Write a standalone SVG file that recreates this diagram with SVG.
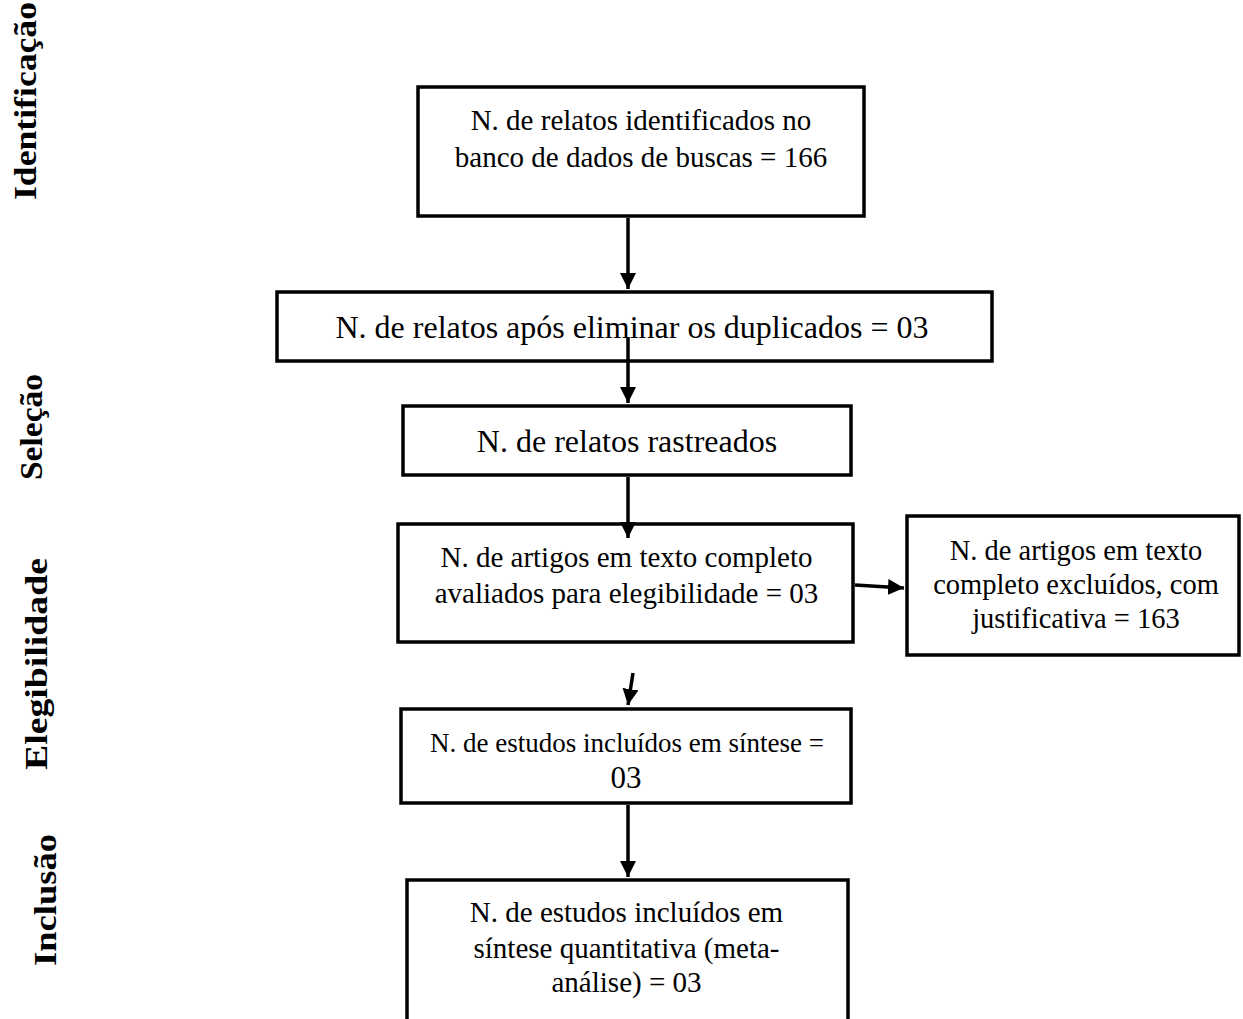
<svg xmlns="http://www.w3.org/2000/svg" width="1243" height="1019" viewBox="0 0 1243 1019">
<style>
.box{fill:#fff;stroke:#000;stroke-width:3.5}
.t{font-family:"Liberation Serif","Times New Roman",serif;fill:#000;text-anchor:middle}
.side{font-family:"Liberation Serif","Times New Roman",serif;font-weight:bold;font-size:31px;fill:#000;text-anchor:middle}
.conn{stroke:#000;stroke-width:3.5;fill:none;marker-end:url(#ah)}
</style>
<defs>
<marker id="ah" markerUnits="userSpaceOnUse" markerWidth="16" markerHeight="16" refX="16" refY="8" orient="auto">
<path d="M0,0 L16,8 L0,16 z" fill="#000"/>
</marker>
</defs>
<rect width="1243" height="1019" fill="#fff"/>
<g id="labels">
<text class="side" transform="translate(36,101) rotate(-90)" textLength="198" lengthAdjust="spacingAndGlyphs">Identificação</text>
<text class="side" transform="translate(42,427) rotate(-90)" textLength="106" lengthAdjust="spacingAndGlyphs">Seleção</text>
<text class="side" transform="translate(47,664) rotate(-90)" textLength="212" lengthAdjust="spacingAndGlyphs">Elegibilidade</text>
<text class="side" transform="translate(56,900) rotate(-90)" textLength="132" lengthAdjust="spacingAndGlyphs">Inclusão</text>
</g>
<g id="n1">
<rect class="box" x="418" y="87" width="446" height="129"/>
<text class="t" font-size="29" x="641" y="130">N. de relatos identificados no</text>
<text class="t" font-size="29" x="641" y="167">banco de dados de buscas = 166</text>
</g>
<g id="n2">
<rect class="box" x="277" y="292" width="715" height="69"/>
<text class="t" font-size="32" x="632" y="338">N. de relatos após eliminar os duplicados = 03</text>
</g>
<g id="n3">
<rect class="box" x="403" y="406" width="448" height="69"/>
<text class="t" font-size="32" x="627" y="452">N. de relatos rastreados</text>
</g>
<g id="n4">
<rect class="box" x="398" y="524" width="455" height="118"/>
<text class="t" font-size="29" x="626.5" y="567">N. de artigos em texto completo</text>
<text class="t" font-size="29" x="626.5" y="603">avaliados para elegibilidade = 03</text>
</g>
<g id="n5">
<rect class="box" x="907" y="516" width="332" height="139"/>
<text class="t" font-size="28.5" x="1076" y="560">N. de artigos em texto</text>
<text class="t" font-size="28.5" x="1076" y="594">completo excluídos, com</text>
<text class="t" font-size="28.5" x="1076" y="628">justificativa = 163</text>
</g>
<g id="n6">
<rect class="box" x="401" y="709" width="450" height="94"/>
<text class="t" font-size="27" x="627" y="752">N. de estudos incluídos em síntese =</text>
<text class="t" font-size="31" x="626" y="788">03</text>
</g>
<g id="n7">
<rect class="box" x="407" y="880" width="441" height="150"/>
<text class="t" font-size="29" x="626.5" y="922">N. de estudos incluídos em</text>
<text class="t" font-size="29" x="626.5" y="958">síntese quantitativa (meta-</text>
<text class="t" font-size="29" x="626.5" y="992">análise) = 03</text>
</g>
<g id="connectors">
<line class="conn" x1="628" y1="218" x2="628" y2="289"/>
<line class="conn" x1="628" y1="337" x2="628" y2="403"/>
<line class="conn" x1="628" y1="477" x2="628" y2="538"/>
<line class="conn" x1="855" y1="585" x2="904" y2="588"/>
<line class="conn" x1="633" y1="673" x2="628" y2="705"/>
<line class="conn" x1="628" y1="805" x2="628" y2="877"/>
</g>
</svg>
